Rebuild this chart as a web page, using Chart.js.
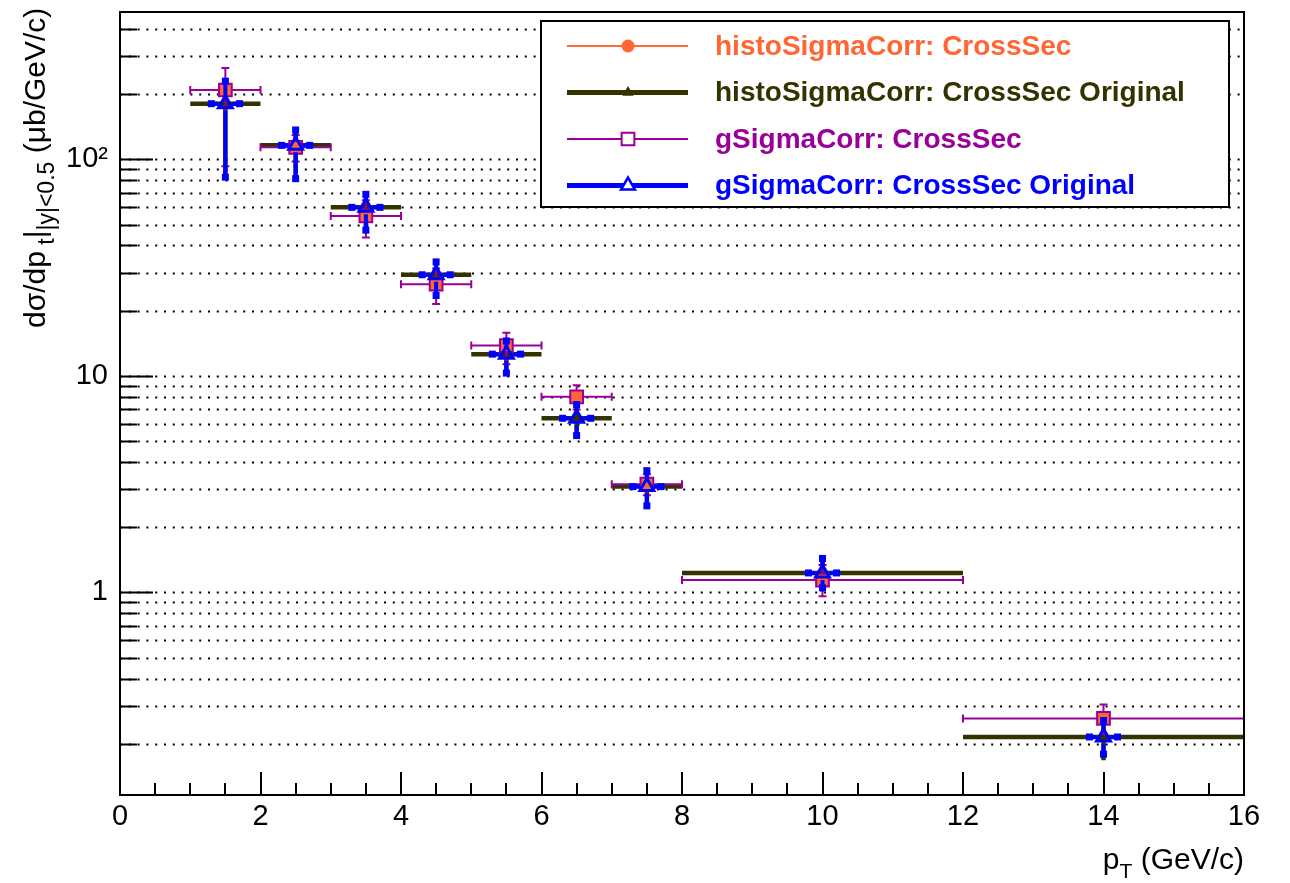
<!DOCTYPE html>
<html>
<head>
<meta charset="utf-8">
<script src="https://cdn.jsdelivr.net/npm/chart.js@4.4.1/dist/chart.umd.min.js"></script>
<style>
  html, body { margin: 0; padding: 0; background: #fff; }
  canvas { display: block; }
</style>
</head>
<body>
<canvas id="xsecChart" width="1290" height="883"></canvas>
<script>
// pT bins (GeV/c)
const binCenters = [1.5, 2.5, 3.5, 4.5, 5.5, 6.5, 7.5, 10, 14];
const binLow     = [1, 2, 3, 4, 5, 6, 7, 8, 12];
const binHigh    = [2, 3, 4, 5, 6, 7, 8, 12, 16];

// histoSigmaCorr: CrossSec
const histoCrossSec = [209, 113.6, 54.8, 26.5, 13.8, 8.0, 3.16, 1.14, 0.262];
// histoSigmaCorr: CrossSec Original
const histoCrossSecOrig    = [180.7, 116, 60.0, 29.3, 12.6, 6.37, 3.08, 1.23, 0.215];
const histoOrigErrUp       = [49, 20.6, 8.9, 4.3, 1.9, 1.0, 0.57, 0.205, 0.041];
const histoOrigErrDown     = [98, 34.6, 12.9, 5.8, 2.3, 1.07, 0.57, 0.22, 0.047];
// gSigmaCorr: CrossSec
const gCrossSec       = [209, 113.6, 54.8, 26.5, 13.8, 8.0, 3.16, 1.14, 0.262];
const gErrUp          = [55, 16, 10, 4.8, 2.0, 1.06, 0.35, 0.20, 0.042];
const gErrDown        = [116, 16, 11.2, 5.0, 2.5, 1.0, 0.35, 0.18, 0.04];
// gSigmaCorr: CrossSec Original
const gCrossSecOrig   = [180.7, 116, 60.0, 29.3, 12.6, 6.37, 3.08, 1.23, 0.215];
const gOrigErrUp      = [49, 20.6, 8.9, 4.3, 1.9, 1.0, 0.57, 0.205, 0.041];
const gOrigErrDown    = [98, 34.6, 12.9, 5.8, 2.3, 1.07, 0.57, 0.18, 0.036];
const gOrigErrX       = [0.2, 0.2, 0.2, 0.2, 0.2, 0.2, 0.2, 0.2, 0.2];

// axis ticks
const xTickValues = [0, 2, 4, 6, 8, 10, 12, 14, 16];
const xTickLabels = ['0', '2', '4', '6', '8', '10', '12', '14', '16'];
const yTickValues = [0.2, 0.3, 0.4, 0.5, 0.6, 0.7, 0.8, 0.9, 1, 2, 3, 4, 5, 6, 7, 8, 9, 10,
                     20, 30, 40, 50, 60, 70, 80, 90, 100, 200, 300, 400];
const yLabelValues = [1, 10, 100];
const yLabelTexts  = ['1', '10', '10²'];

const FONT = '"Liberation Sans", Arial, Helvetica, sans-serif';
const ORANGE = '#ff6633';
const OLIVE = '#333300';
const MAGENTA = '#990099';
const BLUE = '#0000ff';

function pts(ys) {
  return binCenters.map((x, i) => ({ x: x, y: ys[i] }));
}

// error bars, drawn just before each dataset's markers
const errorBars = {
  id: 'errorBars',
  beforeDatasetDraw(chart, args) {
    const ds = chart.data.datasets[args.index];
    const e = ds.err;
    if (!e) return;
    const xs = chart.scales.x, ys = chart.scales.y, ctx = chart.ctx;
    ctx.save();
    ctx.strokeStyle = e.color;
    ctx.fillStyle = e.color;
    ctx.lineWidth = e.width;
    ctx.lineCap = 'butt';
    ds.data.forEach((p, i) => {
      const px = xs.getPixelForValue(p.x);
      const py = ys.getPixelForValue(p.y);
      const xl = xs.getPixelForValue(e.xLow[i]);
      const xh = xs.getPixelForValue(e.xHigh[i]);
      const yh = ys.getPixelForValue(p.y + e.up[i]);
      const yl = ys.getPixelForValue(p.y - e.down[i]);
      const g = e.gap;
      ctx.beginPath();
      ctx.moveTo(xl, py); ctx.lineTo(px - g, py);
      ctx.moveTo(px + g, py); ctx.lineTo(xh, py);
      ctx.moveTo(px, yh); ctx.lineTo(px, py - g);
      ctx.moveTo(px, py + g); ctx.lineTo(px, yl);
      ctx.stroke();
      if (e.cap === 'serif') {
        ctx.lineWidth = 2;
        ctx.beginPath();
        ctx.moveTo(xl, py - 4); ctx.lineTo(xl, py + 4);
        ctx.moveTo(xh, py - 4); ctx.lineTo(xh, py + 4);
        ctx.moveTo(px - 4, yh); ctx.lineTo(px + 4, yh);
        ctx.moveTo(px - 4, yl); ctx.lineTo(px + 4, yl);
        ctx.stroke();
        ctx.lineWidth = e.width;
      } else if (e.cap === 'square') {
        const s = 3.5;
        ctx.fillRect(xl - s, py - s, 2 * s, 2 * s);
        ctx.fillRect(xh - s, py - s, 2 * s, 2 * s);
        ctx.fillRect(px - s, yh - s, 2 * s, 2 * s);
        ctx.fillRect(px - s, yl - s, 2 * s, 2 * s);
      }
    });
    ctx.restore();
  }
};

// draws text with subscripts: parts = [[text, isSub], ...]
function richWidth(ctx, parts, size, subScale) {
  let w = 0;
  parts.forEach(([t, sub]) => {
    ctx.font = (sub ? Math.round(size * subScale) : size) + 'px ' + FONT;
    w += ctx.measureText(t).width;
  });
  return w;
}
function drawRich(ctx, parts, size, subScale, x, y) {
  parts.forEach(([t, sub]) => {
    ctx.font = (sub ? Math.round(size * subScale) : size) + 'px ' + FONT;
    ctx.fillText(t, x, sub ? y + size * 0.3 : y);
    x += ctx.measureText(t).width;
  });
}

// frame, dotted grid, tick marks, titles, legend
const rootFrame = {
  id: 'rootFrame',
  beforeDatasetsDraw(chart) {
    const { ctx, chartArea: a } = chart;
    const ys = chart.scales.y;
    ctx.save();
    ctx.strokeStyle = '#000';
    ctx.lineWidth = 2;
    ctx.setLineDash([2, 6.8]);
    ys.ticks.forEach(t => {
      const y = Math.round(ys.getPixelForValue(t.value)) + 0.5;
      ctx.beginPath();
      ctx.moveTo(a.left, y);
      ctx.lineTo(a.right, y);
      ctx.stroke();
    });
    ctx.restore();
  },
  afterDatasetsDraw(chart) {
    const { ctx, chartArea: a } = chart;
    const xs = chart.scales.x, ys = chart.scales.y;
    ctx.save();
    ctx.strokeStyle = '#000';
    ctx.lineWidth = 2;
    // y ticks
    ys.ticks.forEach(t => {
      const y = Math.round(ys.getPixelForValue(t.value)) + 0.5;
      const len = yLabelValues.includes(t.value) ? 33 : 17;
      ctx.beginPath(); ctx.moveTo(a.left, y); ctx.lineTo(a.left + len, y); ctx.stroke();
    });
    // x ticks: majors every 2, minors every 0.5
    for (let v = 0; v <= 16; v += 0.5) {
      const x = Math.round(xs.getPixelForValue(v));
      const len = (v % 2 === 0) ? 23 : 12;
      ctx.beginPath(); ctx.moveTo(x, a.bottom); ctx.lineTo(x, a.bottom - len); ctx.stroke();
    }
    // frame
    ctx.strokeRect(a.left, a.top, a.right - a.left, a.bottom - a.top);

    // x title
    ctx.fillStyle = '#000';
    ctx.textBaseline = 'alphabetic';
    const xParts = [['p', false], ['T', true], [' (GeV/c)', false]];
    const xw = richWidth(ctx, xParts, 30, 0.7);
    drawRich(ctx, xParts, 30, 0.7, a.right - xw, 869);

    // y title (rotated), starts at y=328 and reads upward
    const yParts = [['dσ/dp', false], [' t', true], ['|', false], ['|y|<0.5', true], [' (μb/GeV/c)', false]];
    ctx.save();
    ctx.translate(45, 328);
    ctx.rotate(-Math.PI / 2);
    drawRich(ctx, yParts, 30, 0.78, 0, 0);
    ctx.restore();

    // legend
    const L = { x: 541, y: 21, w: 688, h: 186 };
    ctx.fillStyle = '#fff';
    ctx.fillRect(L.x, L.y, L.w, L.h);
    ctx.strokeRect(L.x, L.y, L.w, L.h);
    const rows = [46, 92.5, 139, 185.5];
    chart.data.datasets.forEach((ds, i) => {
      const y = rows[i];
      const lg = ds.legendStyle;
      ctx.strokeStyle = ds.legendColor;
      ctx.fillStyle = ds.legendColor;
      ctx.lineWidth = lg.lineWidth;
      ctx.beginPath(); ctx.moveTo(567, y); ctx.lineTo(688, y); ctx.stroke();
      ctx.lineWidth = lg.markerBorder;
      ctx.fillStyle = lg.filled ? ds.legendColor : '#fff';
      Chart.helpers.drawPoint(ctx, {
        pointStyle: lg.marker, radius: lg.radius, rotation: 0, borderWidth: lg.markerBorder
      }, 628, y);
      ctx.fillStyle = ds.legendColor;
      ctx.font = 'bold 28px ' + FONT;
      ctx.textBaseline = 'middle';
      ctx.fillText(ds.label, 715, y + 1);
    });
    ctx.restore();
  }
};

function noPad(s) {
  s.paddingTop = 0; s.paddingBottom = 0; s.paddingLeft = 0; s.paddingRight = 0;
}

new Chart(document.getElementById('xsecChart'), {
  type: 'scatter',
  data: {
    datasets: [
      {
        label: 'histoSigmaCorr: CrossSec',
        data: pts(histoCrossSec),
        order: 2,
        pointStyle: 'rect',
        pointRadius: 8.5,
        backgroundColor: ORANGE,
        borderColor: ORANGE,
        borderWidth: 0,
        legendColor: ORANGE,
        legendStyle: { lineWidth: 2, marker: 'circle', radius: 6.5, filled: true, markerBorder: 0 },
        err: null
      },
      {
        label: 'histoSigmaCorr: CrossSec Original',
        data: pts(histoCrossSecOrig),
        order: 3,
        pointStyle: 'triangle',
        pointRadius: 7,
        backgroundColor: OLIVE,
        borderColor: OLIVE,
        borderWidth: 0,
        legendColor: OLIVE,
        legendStyle: { lineWidth: 5, marker: 'triangle', radius: 6.5, filled: true, markerBorder: 0 },
        err: { xLow: binLow, xHigh: binHigh, up: histoOrigErrUp, down: histoOrigErrDown,
               color: OLIVE, width: 4.5, gap: 0, cap: 'none' }
      },
      {
        label: 'gSigmaCorr: CrossSec',
        data: pts(gCrossSec),
        order: 1,
        pointStyle: 'rect',
        pointRadius: 9,
        backgroundColor: 'rgba(0,0,0,0)',
        borderColor: MAGENTA,
        borderWidth: 2,
        legendColor: MAGENTA,
        legendStyle: { lineWidth: 2, marker: 'rect', radius: 9, filled: false, markerBorder: 2 },
        err: { xLow: binLow, xHigh: binHigh, up: gErrUp, down: gErrDown,
               color: MAGENTA, width: 2, gap: 6.5, cap: 'serif' }
      },
      {
        label: 'gSigmaCorr: CrossSec Original',
        data: pts(gCrossSecOrig),
        order: 0,
        pointStyle: 'triangle',
        pointRadius: 8,
        backgroundColor: 'rgba(0,0,0,0)',
        borderColor: BLUE,
        borderWidth: 3,
        legendColor: BLUE,
        legendStyle: { lineWidth: 5, marker: 'triangle', radius: 8, filled: false, markerBorder: 2.5 },
        err: { xLow: binCenters.map((c, i) => c - gOrigErrX[i]),
               xHigh: binCenters.map((c, i) => c + gOrigErrX[i]),
               up: gOrigErrUp, down: gOrigErrDown,
               color: BLUE, width: 4, gap: 7, cap: 'square' }
      }
    ]
  },
  options: {
    responsive: false,
    animation: false,
    events: [],
    layout: { padding: { left: 0, top: 12, right: 46, bottom: 0 } },
    plugins: { legend: { display: false }, tooltip: { enabled: false } },
    scales: {
      x: {
        type: 'linear',
        min: 0,
        max: 16,
        afterBuildTicks: s => { s.ticks = xTickValues.map(v => ({ value: v })); },
        afterFit: s => { s.height = 88; noPad(s); },
        grid: { display: false, drawTicks: false },
        border: { display: false },
        ticks: {
          autoSkip: false,
          maxRotation: 0,
          padding: 5,
          color: '#000',
          font: { family: FONT, size: 29 },
          callback: (v, i) => xTickLabels[i]
        }
      },
      y: {
        type: 'logarithmic',
        min: 0.116,
        max: 479,
        afterBuildTicks: s => { s.ticks = yTickValues.map(v => ({ value: v })); },
        afterFit: s => { s.width = 120; noPad(s); },
        grid: { display: false, drawTicks: false },
        border: { display: false },
        ticks: {
          autoSkip: false,
          padding: 12,
          color: '#000',
          font: { family: FONT, size: 29 },
          callback: (v, i) => {
            const k = yLabelValues.indexOf(yTickValues[i]);
            return k >= 0 ? yLabelTexts[k] : '';
          }
        }
      }
    }
  },
  plugins: [errorBars, rootFrame]
});
</script>
</body>
</html>
